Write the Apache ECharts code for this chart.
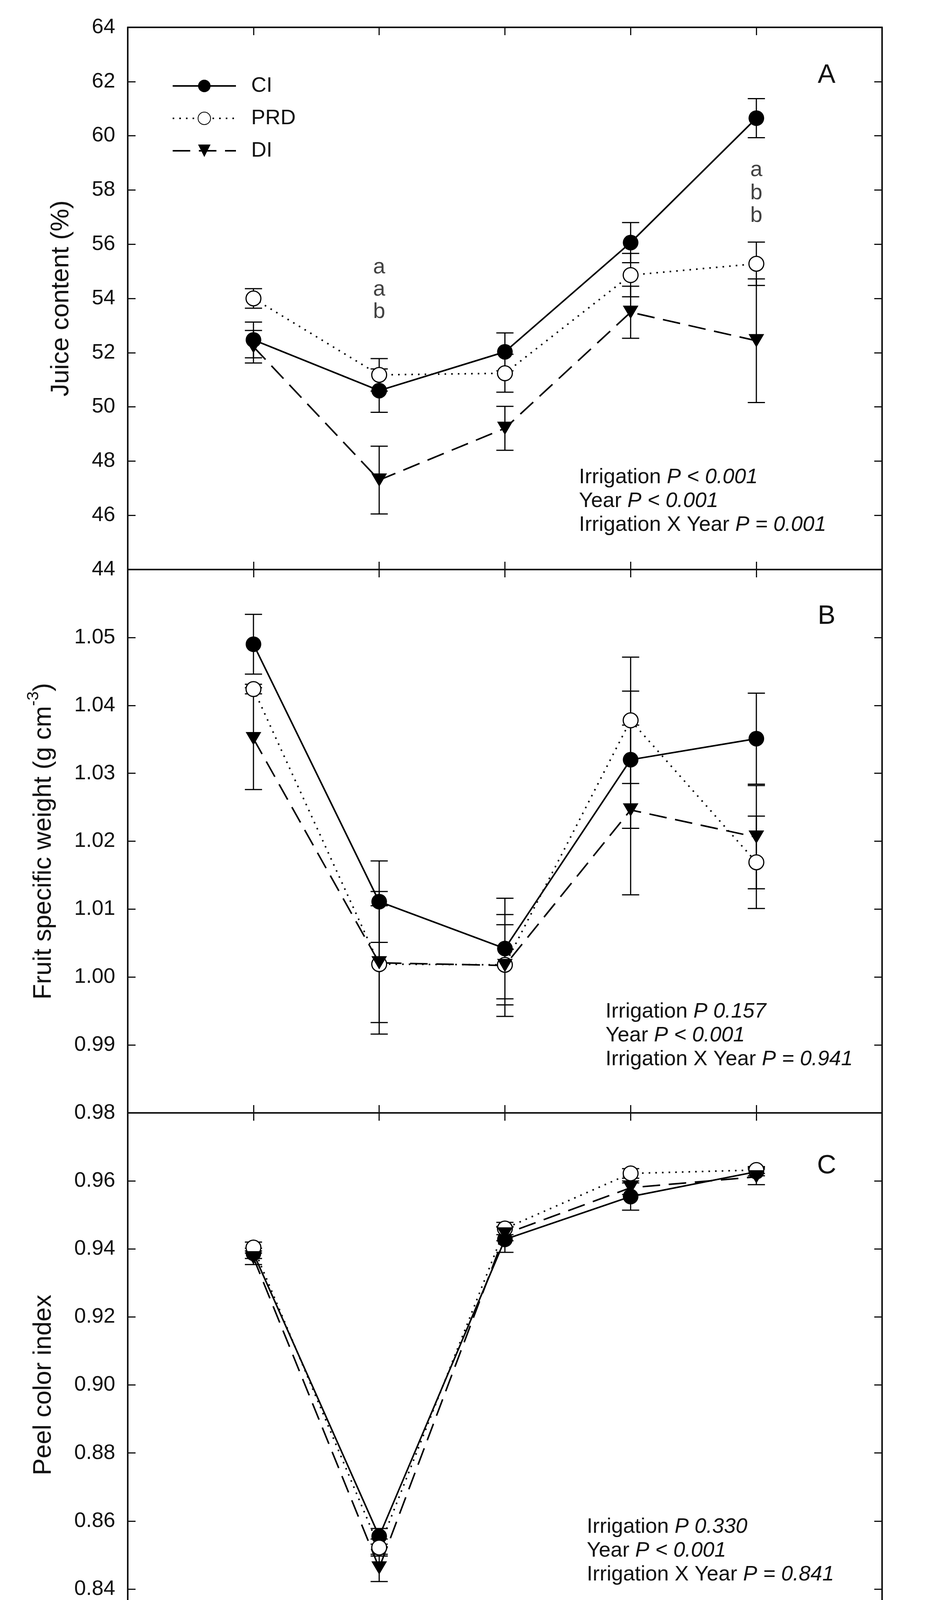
<!DOCTYPE html>
<html><head><meta charset="utf-8">
<script src="https://cdn.jsdelivr.net/npm/echarts@6/dist/echarts.min.js"></script>
<style>html,body{margin:0;padding:0;background:#fff}#c{width:2373px;height:4386px}</style>
</head><body><div id="c"></div>
<script>
// ---------- data ----------
const years = [2008, 2009, 2010, 2011, 2012];
const seriesNames = ['CI', 'PRD', 'DI'];

// Panel A: Juice content (%)
const juiceCI = [52.47, 50.60, 52.03, 56.06, 60.65];
const juiceCIse = [0.66, 0.80, 0.70, 0.74, 0.72];
const juicePRD = [54.00, 51.18, 51.24, 54.86, 55.28];
const juicePRDse = [0.36, 0.60, 0.70, 0.80, 0.80];
const juiceDI = [52.22, 47.30, 49.21, 53.49, 52.44];
const juiceDIse = [0.60, 1.25, 0.81, 0.96, 2.28];

// Panel B: Fruit specific weight (g cm-3)
const weightCI = [1.0490, 1.0111, 1.0042, 1.0320, 1.0351];
const weightCIse = [0.0044, 0.0060, 0.0074, 0.0101, 0.0067];
const weightPRD = [1.0424, 1.0019, 1.0018, 1.0378, 1.0169];
const weightPRDse = [0.0007, 0.0086, 0.0059, 0.0093, 0.0068];
const weightDI = [1.0351, 1.0021, 1.0017, 1.0246, 1.0206];
const weightDIse = [0.0075, 0.0105, 0.0075, 0.0125, 0.0076];

// Panel C: Peel color index
const peelCI = [0.9387, 0.8555, 0.9428, 0.9554, 0.9627];
const peelCIse = [0.0015, 0.0023, 0.0038, 0.0040, 0.0012];
const peelPRD = [0.9404, 0.8522, 0.9460, 0.9622, 0.9632];
const peelPRDse = [0.0016, 0.0025, 0.0018, 0.0014, 0.0010];
const peelDI = [0.9374, 0.8462, 0.9444, 0.9580, 0.9612];
const peelDIse = [0.0020, 0.0040, 0.0020, 0.0020, 0.0023];

// significance letters (year, value position, letter)
const sigLetters = [
  [2009, 55.15, 'a'], [2009, 54.32, 'a'], [2009, 53.50, 'b'],
  [2012, 58.73, 'a'], [2012, 57.88, 'b'], [2012, 57.05, 'b']
];

// axis ranges / ticks
const xRange = {min: 2007, max: 2013, interval: 1};
const yRanges = [
  {min: 44, max: 64, interval: 2, digits: 0, hideTop: false},
  {min: 0.98, max: 1.06, interval: 0.01, digits: 2, hideTop: true},
  {min: 0.82, max: 0.98, interval: 0.02, digits: 2, hideTop: true}
];
const panelTitles = [
  '{t|Juice content (%)}',
  '{t|Fruit specific weight (g cm}{s|-3}{t|)}',
  '{t|Peel color index}'
];
const panelLetters = ['A', 'B', 'C'];
const statTexts = [
  ['{n|Irrigation }{i|P < 0.001}', '{n|Year }{i|P < 0.001}', '{n|Irrigation X Year }{i|P = 0.001}'],
  ['{n|Irrigation }{i|P 0.157}', '{n|Year }{i|P < 0.001}', '{n|Irrigation X Year }{i|P = 0.941}'],
  ['{n|Irrigation }{i|P 0.330}', '{n|Year }{i|P < 0.001}', '{n|Irrigation X Year }{i|P = 0.841}']
];

const panels = [
  [[juiceCI, juiceCIse], [juicePRD, juicePRDse], [juiceDI, juiceDIse]],
  [[weightCI, weightCIse], [weightPRD, weightPRDse], [weightDI, weightDIse]],
  [[peelCI, peelCIse], [peelPRD, peelPRDse], [peelDI, peelDIse]]
];

// ---------- layout / style ----------
const FONT = '"Liberation Sans", Arial, Helvetica, sans-serif';
const L = 327, R = 2258;
const gridTops = [70, 1458, 2849];
const gridHeights = [1388, 1391, 1393];
const nameGaps = [137, 182, 182];
const axisLine = {show: true, lineStyle: {color: '#111', width: 4}};
const tickIn = {show: true, inside: true, length: 20, lineStyle: {color: '#111', width: 3}};

const grids = [], xAxes = [], yAxes = [], series = [];

const styles = {
  CI: {symbol: 'circle', symbolSize: 40, itemStyle: {color: '#000'},
       lineStyle: {color: '#000', width: 4, type: 'solid'}},
  PRD: {symbol: 'circle', symbolSize: 38, itemStyle: {color: '#fff', borderColor: '#000', borderWidth: 3},
       lineStyle: {color: '#000', width: 4, type: [4, 13]}},
  DI: {symbol: 'triangle', symbolRotate: 180, symbolSize: [40, 34], itemStyle: {color: '#000'},
       lineStyle: {color: '#000', width: 4, type: [45, 22]}}
};

for (let g = 0; g < 3; g++) {
  grids.push({left: L, width: R - L, top: gridTops[g], height: gridHeights[g], containLabel: false});
  xAxes.push({
    type: 'value', gridIndex: g, position: 'bottom', min: xRange.min, max: xRange.max, interval: xRange.interval,
    axisLine, axisTick: tickIn, splitLine: {show: false},
    axisLabel: {show: g === 2, fontFamily: FONT, fontSize: 54, color: '#111', margin: 29,
                formatter: v => String(v)}
  });
  xAxes.push({
    type: 'value', gridIndex: g, position: 'top', min: xRange.min, max: xRange.max, interval: xRange.interval,
    axisLine, axisTick: tickIn, splitLine: {show: false}, axisLabel: {show: false}
  });
  const yr = yRanges[g];
  yAxes.push({
    type: 'value', gridIndex: g, position: 'left', min: yr.min, max: yr.max, interval: yr.interval,
    axisLine, axisTick: tickIn, splitLine: {show: false},
    axisLabel: {fontFamily: FONT, fontSize: 54, color: '#111', margin: 32,
      formatter: v => (yr.hideTop && Math.abs(v - yr.max) < 1e-9) ? '' : v.toFixed(yr.digits)},
    name: panelTitles[g], nameLocation: 'middle', nameGap: nameGaps[g],
    nameTextStyle: {fontFamily: FONT, fontSize: 65, color: '#111',
      rich: {
        t: {fontFamily: FONT, fontSize: 65, color: '#111', lineHeight: 80, verticalAlign: 'bottom'},
        s: {fontFamily: FONT, fontSize: 42, color: '#111', lineHeight: 80, verticalAlign: 'top'}
      }}
  });
  yAxes.push({
    type: 'value', gridIndex: g, position: 'right', min: yr.min, max: yr.max, interval: yr.interval,
    axisLine, axisTick: tickIn, splitLine: {show: false}, axisLabel: {show: false}
  });
}

// line series first (so legend picks them up)
for (let g = 0; g < 3; g++) {
  panels[g].forEach((pair, k) => {
    const nm = seriesNames[k];
    const st = styles[nm];
    series.push(Object.assign({
      type: 'line', name: nm, xAxisIndex: 2 * g, yAxisIndex: 2 * g, z: 4,
      data: years.map((y, i) => [y, pair[0][i]])
    }, JSON.parse(JSON.stringify(st))));
  });
}
// error bars
for (let g = 0; g < 3; g++) {
  panels[g].forEach((pair, k) => {
    series.push({
      type: 'custom', name: seriesNames[k] + ' SE', xAxisIndex: 2 * g, yAxisIndex: 2 * g, z: 2,
      data: years.map((y, i) => [y, pair[0][i] - pair[1][i], pair[0][i] + pair[1][i]]),
      renderItem(params, api) {
        const x = api.value(0);
        const lo = api.coord([x, api.value(1)]);
        const hi = api.coord([x, api.value(2)]);
        const w = 22;
        const st = {stroke: '#000', lineWidth: 3};
        return {type: 'group', children: [
          {type: 'line', shape: {x1: lo[0], y1: lo[1], x2: hi[0], y2: hi[1]}, style: st},
          {type: 'line', shape: {x1: lo[0] - w, y1: lo[1], x2: lo[0] + w, y2: lo[1]}, style: st},
          {type: 'line', shape: {x1: hi[0] - w, y1: hi[1], x2: hi[0] + w, y2: hi[1]}, style: st}
        ]};
      }
    });
  });
}
// significance letters
series.push({
  type: 'scatter', name: 'letters', xAxisIndex: 0, yAxisIndex: 0, z: 5,
  symbolSize: 1, itemStyle: {color: 'rgba(0,0,0,0)'},
  data: sigLetters,
  label: {show: true, position: 'inside', formatter: p => p.value[2],
          fontFamily: FONT, fontSize: 56, color: '#111', textBorderWidth: 0}
});

// graphics: panel letters and stats text
const graphic = [];
const letterY = [193, 1578, 2985];
for (let g = 0; g < 3; g++) {
  graphic.push({type: 'text', x: 2116, y: letterY[g], z: 10,
    style: {text: panelLetters[g], font: '68px ' + FONT, fill: '#111', align: 'center', verticalAlign: 'middle'}});
}
const statX = [1482, 1550, 1502];
const statY = [1222, 2590, 3909];
for (let g = 0; g < 3; g++) {
  statTexts[g].forEach((t, j) => {
    graphic.push({type: 'text', x: statX[g], y: statY[g] + j * 61, z: 10,
      style: {text: t, align: 'left', verticalAlign: 'middle', fill: '#111',
        rich: {
          n: {fontFamily: FONT, fontSize: 54, color: '#111'},
          i: {fontFamily: FONT, fontSize: 54, fontStyle: 'italic', color: '#111'}
        }}});
  });
}

const chart = echarts.init(document.getElementById('c'), null, {renderer: 'canvas'});
chart.setOption({
  backgroundColor: '#fff',
  animation: false,
  grid: grids,
  xAxis: xAxes,
  yAxis: yAxes,
  legend: {
    data: seriesNames, orient: 'vertical', left: 440, top: 193, padding: 0,
    itemWidth: 162, itemHeight: 40, itemGap: 29,
    lineStyle: {width: 4},
    textStyle: {fontFamily: FONT, fontSize: 54, color: '#111', padding: [0, 0, 0, 34]},
    selectedMode: false
  },
  series,
  graphic
});
</script></body></html>
